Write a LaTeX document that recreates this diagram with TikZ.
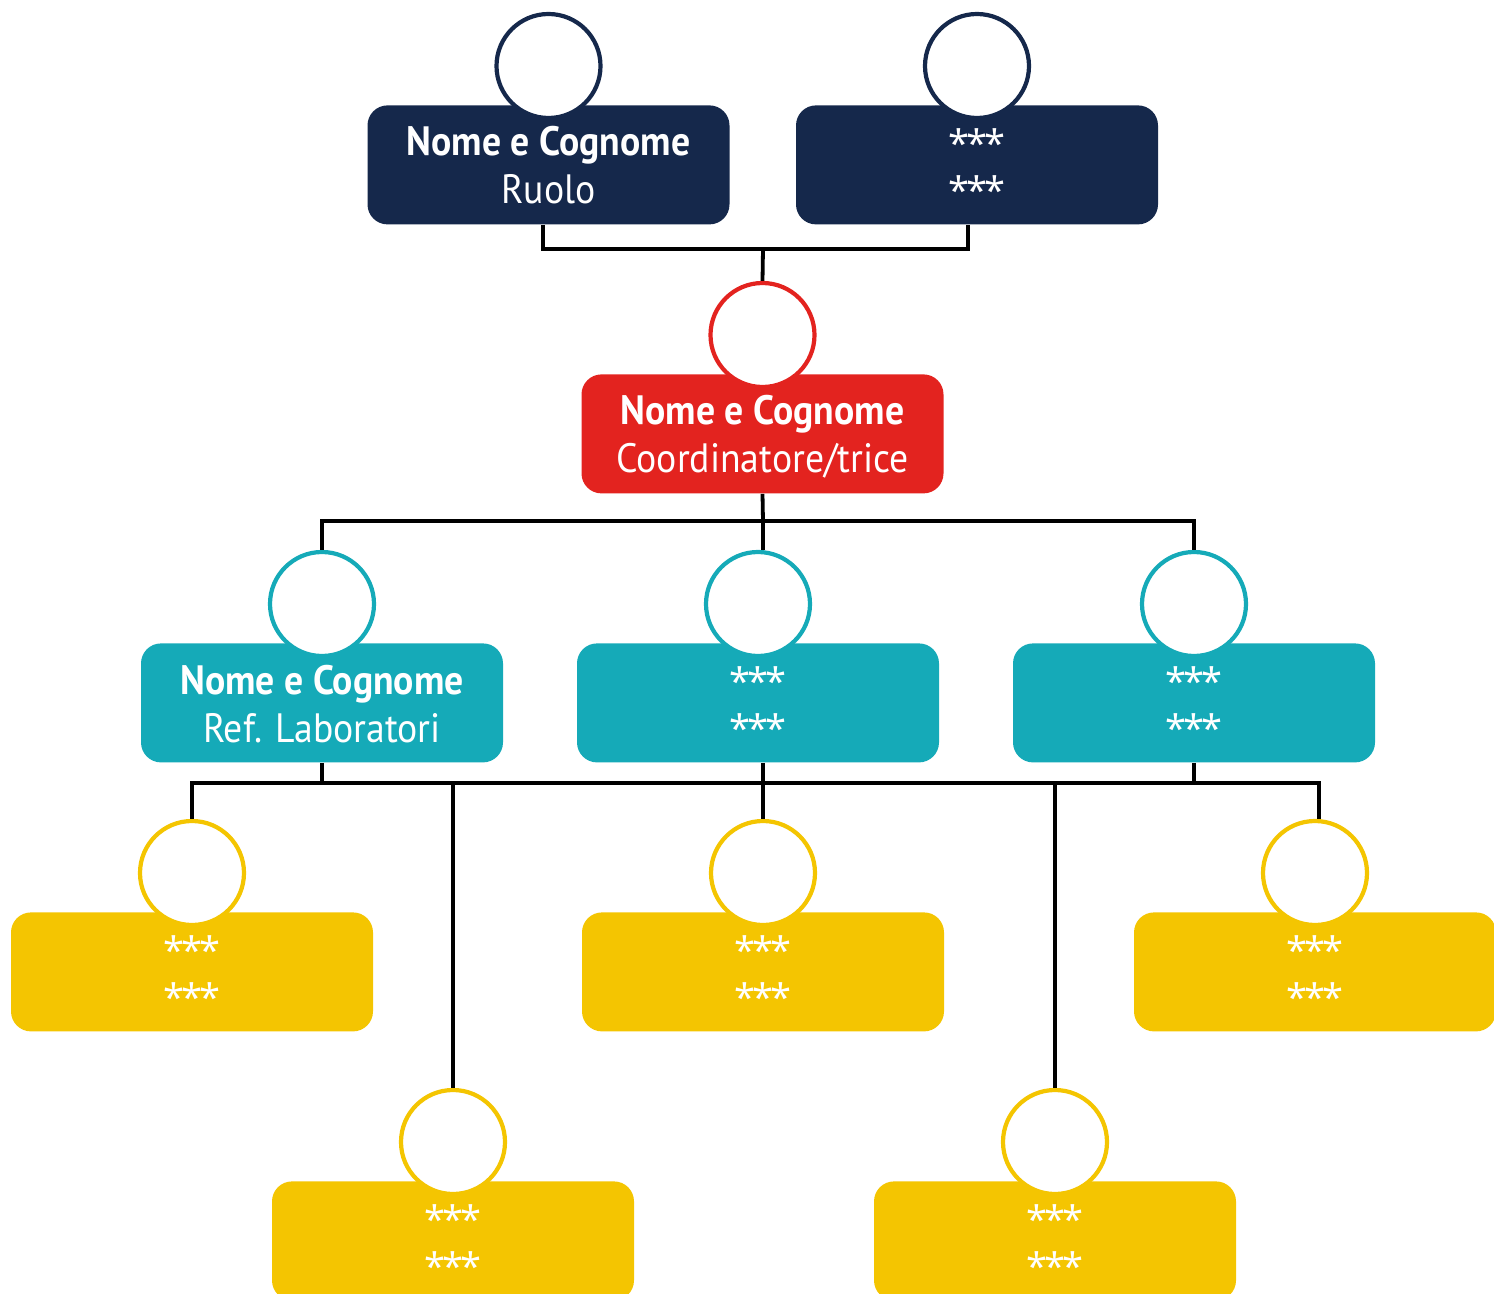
\documentclass[tikz,border=0pt]{standalone}
\usepackage{fontspec}
\newfontfamily\orgfont{PT Sans}[FakeStretch=0.92]
\newfontfamily\starfont{Noto Sans}[LetterSpace=-8]
\definecolor{navy}{HTML}{15284B}
\definecolor{orgred}{HTML}{E3231F}
\definecolor{teal}{HTML}{15AAB8}
\definecolor{gold}{HTML}{F4C501}
\newcommand{\orgunit}[6]{%
  \node[orgbox, fill=#2] (#1b) at (#3,#4) {};
  \node[ring, draw=#2] (#1c) at (#3,#4-39) {};
  \node[linetext] (#1t) at (#3,#4+51) {#5};
  \node[linetext] (#1s) at (#3,#4+99) {#6};
}
\newcommand{\starunit}[4]{%
  \node[orgbox, fill=#2] (#1b) at (#3,#4) {};
  \node[ring, draw=#2] (#1c) at (#3,#4-39) {};
  \node[startext] (#1t) at (#3,#4+52.5) {***};
  \node[startext] (#1s) at (#3,#4+99.5) {***};
}
\begin{document}
\begin{tikzpicture}[x=0.5pt,y=-0.5pt,
  orgbox/.style={draw=none, rounded corners=10pt, minimum width=181pt, minimum height=59.5pt, inner sep=0pt, anchor=north},
  ring/.style={circle, fill=white, line width=2.1pt, minimum size=52pt, inner sep=0pt},
  linetext/.style={anchor=base, text=white, inner sep=0pt, font=\orgfont\fontsize{20.5pt}{24pt}\selectfont},
  startext/.style={anchor=base, text=white, inner sep=0pt, font=\starfont\fontsize{19pt}{24pt}\selectfont},
  wire/.style={draw=black, line width=1.9pt}]
\useasboundingbox (0,0) rectangle (1494,1294);
% level 1
\orgunit{na}{navy}{548.5}{105}{\bfseries Nome e Cognome}{Ruolo}
\starunit{nb}{navy}{977}{105}
% level 2
\orgunit{r}{orgred}{762.5}{374}{\bfseries Nome e Cognome}{Coordinatore/trice}
% level 3
\orgunit{ta}{teal}{322}{643}{\bfseries Nome e Cognome}{Ref. Laboratori}
\starunit{tb}{teal}{758}{643}
\starunit{tc}{teal}{1194}{643}
% level 4
\starunit{ya}{gold}{192}{912}
\starunit{yb}{gold}{763}{912}
\starunit{yc}{gold}{1315}{912}
\starunit{yd}{gold}{453}{1181}
\starunit{ye}{gold}{1055}{1181}
% connectors
\coordinate (j1) at (763,249);
\coordinate (j2) at (763,521);
\coordinate (j3) at (763,783);
\draw[wire] ([xshift=-2.75pt]nab.south) |- (j1) -| ([xshift=-4.5pt]nbb.south);
\draw[wire] (j1) -- (rc.north);
\draw[wire] (rb.south) -- (j2);
\draw[wire] (tac.north) |- (j2) -| (tcc.north);
\draw[wire] (j2) -- (j2 |- tbc.north);
\draw[wire] (tab.south) -- (tab.south |- j3);
\draw[wire] (j3 |- tbb.south) -- (j3);
\draw[wire] (tcb.south) -- (tcb.south |- j3);
\draw[wire] (yac.north) |- (j3) -| ([xshift=2pt]ycc.north);
\draw[wire] (j3) -- (ybc.north);
\draw[wire] (ydc.north) -- (ydc.north |- j3);
\draw[wire] (yec.north) -- (yec.north |- j3);
\end{tikzpicture}
\end{document}
